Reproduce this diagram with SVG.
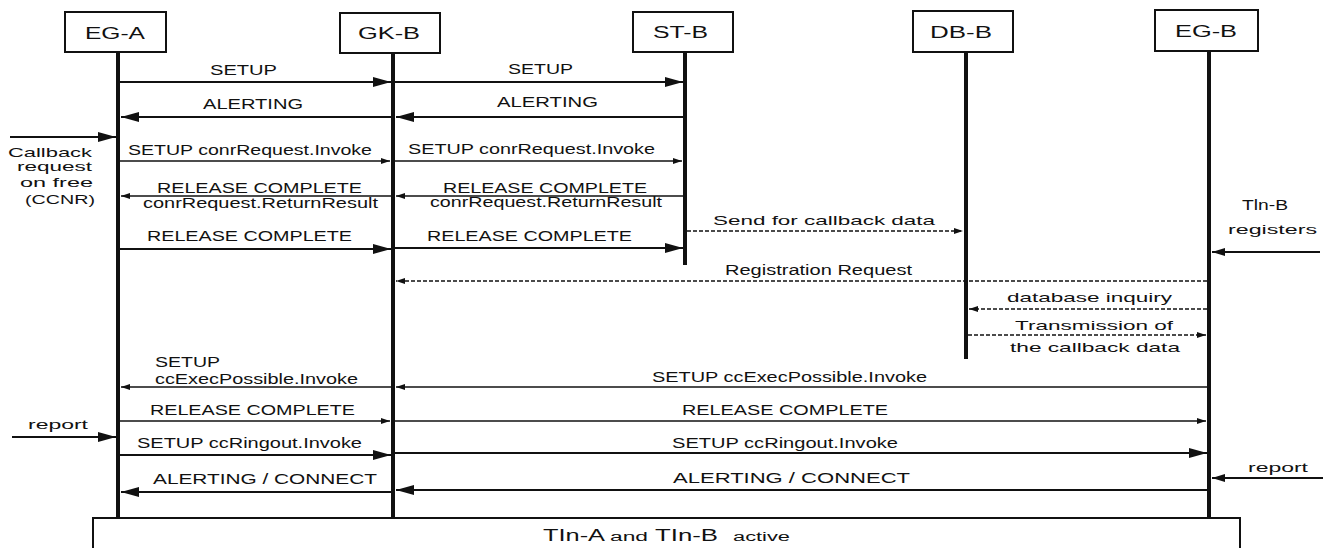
<svg xmlns="http://www.w3.org/2000/svg" width="1325" height="548" viewBox="0 0 1325 548">
<style>
.box{fill:#fff;stroke:#111;stroke-width:2}
.life{stroke:#111;stroke-width:4}
.hdr{font-family:"Liberation Sans",Arial,sans-serif;font-size:16px;fill:#111}
.lbl{font-family:"Liberation Sans",Arial,sans-serif;font-size:14px;fill:#111}
.sm{font-family:"Liberation Sans",Arial,sans-serif;font-size:13px;fill:#111}
.msg{stroke:#111;stroke-width:2;fill:none}
.thin{stroke:#111;stroke-width:1.5;fill:none}
.dash{stroke:#111;stroke-width:1.3;fill:none;stroke-dasharray:4 2}
</style>
<defs>
<marker id="big" markerUnits="userSpaceOnUse" markerWidth="18" markerHeight="10" refX="18" refY="5" orient="auto"><path d="M0,0 L18,5 L0,10 z" fill="#111"/></marker>
<marker id="mid" markerUnits="userSpaceOnUse" markerWidth="13" markerHeight="8" refX="13" refY="4" orient="auto"><path d="M0,0 L13,4 L0,8 z" fill="#111"/></marker>
<marker id="small" markerUnits="userSpaceOnUse" markerWidth="9" markerHeight="6" refX="9" refY="3" orient="auto"><path d="M0,0 L9,3 L0,6 z" fill="#111"/></marker>
</defs>

<g id="EG-A">
<line class="life" x1="118" y1="52" x2="118" y2="518"/>
<rect class="box" x="65" y="12" width="101" height="40"/>
<text class="hdr" x="85" y="39" textLength="60" lengthAdjust="spacingAndGlyphs">EG-A</text>
</g>
<g id="GK-B">
<line class="life" x1="393" y1="53" x2="393" y2="518"/>
<rect class="box" x="340" y="13" width="100" height="40"/>
<text class="hdr" x="358" y="39" textLength="62" lengthAdjust="spacingAndGlyphs">GK-B</text>
</g>
<g id="ST-B">
<line class="life" x1="685" y1="52" x2="685" y2="265"/>
<rect class="box" x="633" y="12" width="100" height="40"/>
<text class="hdr" x="653" y="38" textLength="55" lengthAdjust="spacingAndGlyphs">ST-B</text>
</g>
<g id="DB-B">
<line class="life" x1="966" y1="52" x2="966" y2="359"/>
<rect class="box" x="913" y="11" width="100" height="41"/>
<text class="hdr" x="930" y="38" textLength="62" lengthAdjust="spacingAndGlyphs">DB-B</text>
</g>
<g id="EG-B">
<line class="life" x1="1209" y1="51" x2="1209" y2="518"/>
<rect class="box" x="1155" y="10" width="103" height="41"/>
<text class="hdr" x="1175" y="37" textLength="62" lengthAdjust="spacingAndGlyphs">EG-B</text>
</g>
<g id="active">
<rect class="box" x="93" y="518" width="1147" height="40"/>
<text class="hdr" y="541" font-size="17"><tspan x="543" textLength="62" lengthAdjust="spacingAndGlyphs">TIn-A</tspan><tspan x="610" font-size="12" textLength="38" lengthAdjust="spacingAndGlyphs">and</tspan><tspan x="655" textLength="63" lengthAdjust="spacingAndGlyphs">TIn-B</tspan><tspan x="733" font-size="12" textLength="57" lengthAdjust="spacingAndGlyphs">active</tspan></text>
</g>

<g id="connectors">
<line class="msg" x1="120" y1="82" x2="391" y2="82" marker-end="url(#big)"/>
<line class="msg" x1="395" y1="82" x2="683" y2="82" marker-end="url(#big)"/>
<line class="msg" x1="391" y1="117" x2="121" y2="117" marker-end="url(#big)"/>
<line class="msg" x1="683" y1="117" x2="396" y2="117" marker-end="url(#big)"/>
<line class="msg" x1="10" y1="137" x2="116" y2="137" marker-end="url(#big)"/>
<line class="thin" x1="120" y1="161" x2="390" y2="161" marker-end="url(#small)"/>
<line class="thin" x1="395" y1="161" x2="682" y2="161" marker-end="url(#small)"/>
<line class="thin" x1="683" y1="196" x2="396" y2="196" marker-end="url(#small)"/>
<line class="thin" x1="391" y1="196" x2="121" y2="196" marker-end="url(#small)"/>
<line class="msg" x1="120" y1="249" x2="391" y2="249" marker-end="url(#big)"/>
<line class="msg" x1="395" y1="248" x2="683" y2="248" marker-end="url(#big)"/>
<line class="dash" x1="687" y1="231" x2="963" y2="231" marker-end="url(#small)"/>
<line class="msg" x1="1320" y1="252" x2="1212" y2="252" marker-end="url(#mid)"/>
<line class="dash" x1="1207" y1="281" x2="396" y2="281" marker-end="url(#small)"/>
<line class="dash" x1="1207" y1="309" x2="969" y2="309" marker-end="url(#small)"/>
<line class="dash" x1="968" y1="335" x2="1206" y2="335" marker-end="url(#small)"/>
<line class="thin" x1="1207" y1="387" x2="396" y2="387" marker-end="url(#small)"/>
<line class="thin" x1="391" y1="387" x2="121" y2="387" marker-end="url(#small)"/>
<line class="thin" x1="120" y1="421" x2="390" y2="421" marker-end="url(#small)"/>
<line class="thin" x1="395" y1="421" x2="1206" y2="421" marker-end="url(#small)"/>
<line class="msg" x1="12" y1="437" x2="116" y2="437" marker-end="url(#big)"/>
<line class="msg" x1="120" y1="455" x2="391" y2="455" marker-end="url(#big)"/>
<line class="msg" x1="395" y1="453" x2="1207" y2="453" marker-end="url(#big)"/>
<line class="msg" x1="391" y1="492" x2="121" y2="492" marker-end="url(#big)"/>
<line class="msg" x1="1207" y1="490" x2="396" y2="490" marker-end="url(#big)"/>
<line class="msg" x1="1323" y1="478" x2="1212" y2="478" marker-end="url(#mid)"/>
</g>

<g id="labels">
<text class="lbl" x="210" y="75" textLength="67" lengthAdjust="spacingAndGlyphs">SETUP</text>
<text class="lbl" x="508" y="74" textLength="65" lengthAdjust="spacingAndGlyphs">SETUP</text>
<text class="lbl" x="203" y="109" textLength="100" lengthAdjust="spacingAndGlyphs">ALERTING</text>
<text class="lbl" x="497" y="107" textLength="101" lengthAdjust="spacingAndGlyphs">ALERTING</text>
<text class="lbl" x="128" y="155" textLength="244" lengthAdjust="spacingAndGlyphs">SETUP conrRequest.Invoke</text>
<text class="lbl" x="408" y="154" textLength="247" lengthAdjust="spacingAndGlyphs">SETUP conrRequest.Invoke</text>
<text class="lbl" x="157" y="193" textLength="205" lengthAdjust="spacingAndGlyphs">RELEASE COMPLETE</text>
<text class="lbl" x="443" y="193" textLength="204" lengthAdjust="spacingAndGlyphs">RELEASE COMPLETE</text>
<text class="lbl" x="143" y="208" textLength="235" lengthAdjust="spacingAndGlyphs">conrRequest.ReturnResult</text>
<text class="lbl" x="430" y="207" textLength="232" lengthAdjust="spacingAndGlyphs">conrRequest.ReturnResult</text>
<text class="lbl" x="147" y="241" textLength="205" lengthAdjust="spacingAndGlyphs">RELEASE COMPLETE</text>
<text class="lbl" x="427" y="241" textLength="205" lengthAdjust="spacingAndGlyphs">RELEASE COMPLETE</text>
<text class="sm" x="713" y="225" textLength="222" lengthAdjust="spacingAndGlyphs">Send for callback data</text>
<text class="lbl" x="725" y="275" textLength="187" lengthAdjust="spacingAndGlyphs">Registration Request</text>
<text class="lbl" x="1242" y="210" textLength="46" lengthAdjust="spacingAndGlyphs">Tln-B</text>
<text class="sm" x="1228" y="234" textLength="89" lengthAdjust="spacingAndGlyphs">registers</text>
<text class="sm" x="1007" y="302" textLength="165" lengthAdjust="spacingAndGlyphs">database inquiry</text>
<text class="sm" x="1015" y="330" textLength="158" lengthAdjust="spacingAndGlyphs">Transmission of</text>
<text class="sm" x="1010" y="352" textLength="170" lengthAdjust="spacingAndGlyphs">the callback data</text>
<text class="lbl" x="652" y="382" textLength="275" lengthAdjust="spacingAndGlyphs">SETUP ccExecPossible.Invoke</text>
<text class="lbl" x="155" y="367" textLength="65" lengthAdjust="spacingAndGlyphs">SETUP</text>
<text class="lbl" x="155" y="384" textLength="203" lengthAdjust="spacingAndGlyphs">ccExecPossible.Invoke</text>
<text class="lbl" x="150" y="415" textLength="205" lengthAdjust="spacingAndGlyphs">RELEASE COMPLETE</text>
<text class="lbl" x="682" y="415" textLength="206" lengthAdjust="spacingAndGlyphs">RELEASE COMPLETE</text>
<text class="sm" x="28" y="429" textLength="60" lengthAdjust="spacingAndGlyphs">report</text>
<text class="lbl" x="137" y="448" textLength="225" lengthAdjust="spacingAndGlyphs">SETUP ccRingout.Invoke</text>
<text class="lbl" x="672" y="448" textLength="226" lengthAdjust="spacingAndGlyphs">SETUP ccRingout.Invoke</text>
<text class="lbl" x="153" y="484" textLength="224" lengthAdjust="spacingAndGlyphs">ALERTING / CONNECT</text>
<text class="lbl" x="673" y="483" textLength="237" lengthAdjust="spacingAndGlyphs">ALERTING  /  CONNECT</text>
<text class="sm" x="1248" y="472" textLength="60" lengthAdjust="spacingAndGlyphs">report</text>
<text class="sm" x="92" y="157" text-anchor="end" textLength="84" lengthAdjust="spacingAndGlyphs">Callback</text>
<text class="sm" x="92" y="171" text-anchor="end" textLength="75" lengthAdjust="spacingAndGlyphs">request</text>
<text class="sm" x="93" y="187" text-anchor="end" textLength="73" lengthAdjust="spacingAndGlyphs">on free</text>
<text class="sm" x="95" y="204" text-anchor="end" textLength="70" lengthAdjust="spacingAndGlyphs">(CCNR)</text>
</g>
</svg>
